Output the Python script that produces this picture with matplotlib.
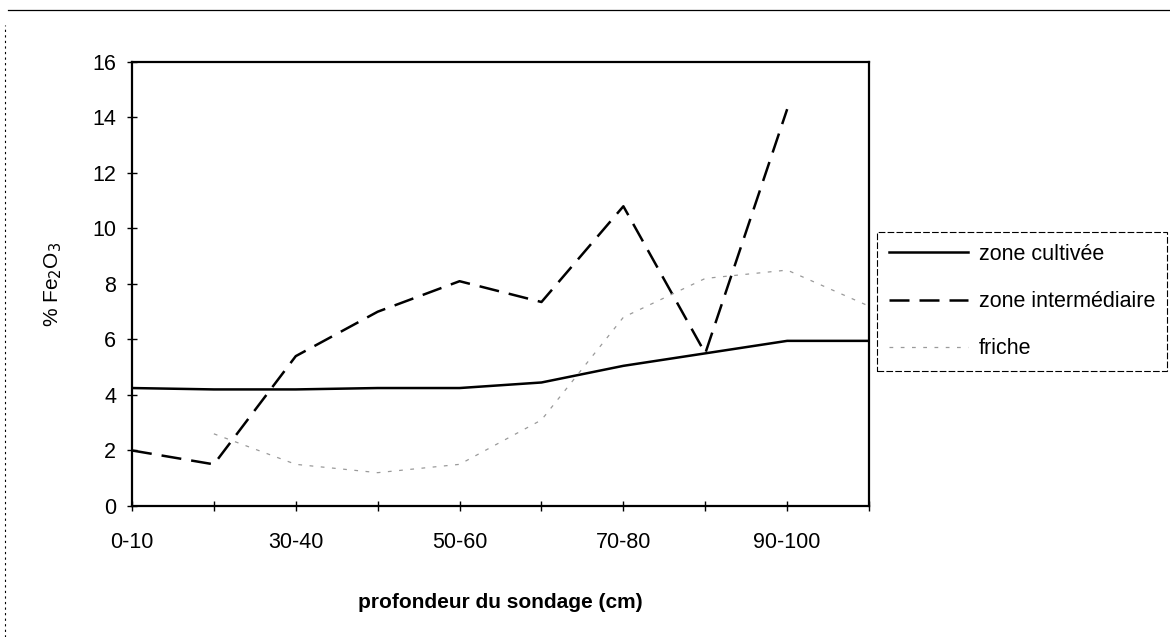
import numpy as np
import matplotlib.pyplot as plt
from matplotlib.lines import Line2D

# ---- data ----
profondeurs = ["0-10", "10-20", "30-40", "40-50", "50-60",
               "60-70", "70-80", "80-90", "90-100", "100-110"]
zone_cultivee = [4.25, 4.2, 4.2, 4.25, 4.25, 4.45, 5.05, 5.5, 5.95, 5.95]
zone_intermediaire = [2.0, 1.5, 5.4, 7.0, 8.1, 7.35, 10.8, 5.5, 14.3, np.nan]
friche = [np.nan, 2.6, 1.5, 1.2, 1.5, 3.1, 6.8, 8.2, 8.5, 7.2]

plt.rcParams['font.family'] = ['Liberation Sans', 'DejaVu Sans']

fig = plt.figure(figsize=(11.7, 6.37), dpi=100)
ax = fig.add_axes([0.1128, 0.2057, 0.63, 0.697])

x = np.arange(len(profondeurs))
ax.plot(x, zone_cultivee, color="black", lw=1.8, label="zone cultivée")
ax.plot(x, zone_intermediaire, color="black", lw=1.8, linestyle=(0, (8, 4)),
        label="zone intermédiaire")
ax.plot(x, friche, color="#9a9a9a", lw=0.9, linestyle=(0, (3, 6)), label="friche")

ax.set_xlim(0, len(profondeurs) - 1)
ax.set_ylim(0, 16)
ax.set_yticks(np.arange(0, 17, 2))
ax.set_xticks(x)
ax.set_xticklabels([p if i % 2 == 0 else "" for i, p in enumerate(profondeurs)])
ax.tick_params(axis="both", direction="inout", length=7, width=1, labelsize=15.5,
               colors="black")
ax.tick_params(axis="y", pad=8)
ax.tick_params(axis="x", pad=15)
for s in ax.spines.values():
    s.set_linewidth(1.6)

ax.set_ylabel("% Fe$_2$O$_3$", fontsize=15, labelpad=20)
ax.set_xlabel("profondeur du sondage (cm)", fontsize=15, fontweight="bold",
              labelpad=29)

leg = ax.legend(loc="upper left", bbox_to_anchor=(877 / 1170, 1 - 232 / 637),
                bbox_transform=fig.transFigure, fontsize=15.5, handlelength=3.7,
                labelspacing=1.22, borderpad=0.55, fancybox=False,
                edgecolor="black", framealpha=1, handletextpad=0.47,
                borderaxespad=0)
leg.get_frame().set_linewidth(0.8)
leg.get_frame().set_linestyle((0, (6, 2)))

# scanned page frame
fig.add_artist(Line2D([8 / 1170, 1], [1 - 10 / 637, 1 - 10 / 637],
                      transform=fig.transFigure, color="black", lw=0.9))
fig.add_artist(Line2D([5 / 1170, 5 / 1170], [0, 1 - 25 / 637],
                      transform=fig.transFigure, color="black", lw=0.8,
                      linestyle=(0, (2, 3))))

fig.savefig("out.png", dpi=100)
